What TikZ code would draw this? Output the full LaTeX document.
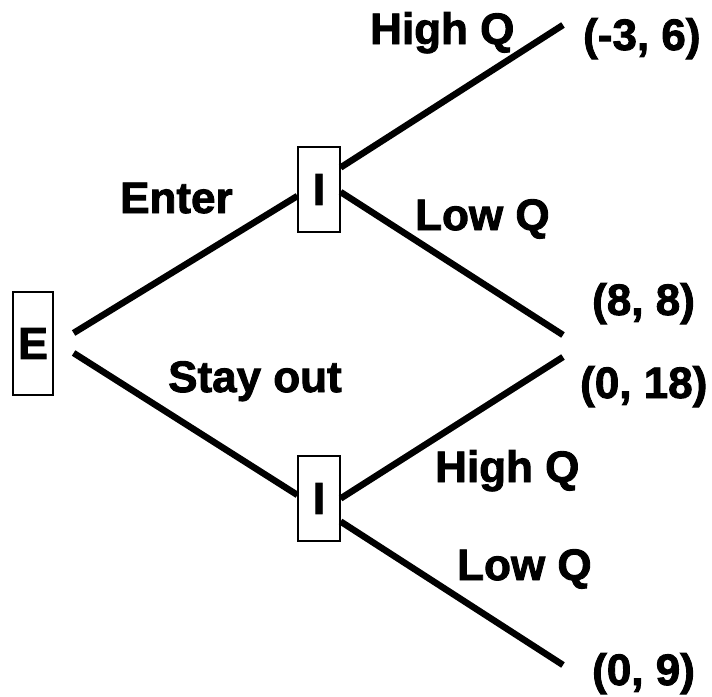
\documentclass[tikz,border=0pt]{standalone}
\usepackage{fontspec}
\setmainfont{Liberation Sans}[BoldFeatures={FakeBold=2}]
\begin{document}
\begin{tikzpicture}[x=1pt,y=-1pt,
  lbl/.style={anchor=base west,inner sep=0pt,font=\fontsize{44}{48}\selectfont\bfseries},
  player/.style={draw,line width=1.2pt,fill=white,inner sep=0pt,font=\fontsize{45}{48}\selectfont\bfseries},
  branch/.style={line width=6.5pt}]
\useasboundingbox (0,0) rectangle (712,696);
% players
\node[player,minimum width=40pt,minimum height=103pt] (E) at (33,343.5) {E};
\node[player,minimum width=42pt,minimum height=85pt] (I1) at (319,189.5) {I};
\node[player,minimum width=42pt,minimum height=85pt] (I2) at (319,498.5) {I};
% terminal points
\coordinate (t1) at (563,25);
\coordinate (t2) at (563,335);
\coordinate (t3) at (563,357);
\coordinate (t4) at (563,665);
% branches
\draw[branch] ([shift={(20,-10.5)}]E.east) -- ([shift={(0,6.5)}]I1.west);
\draw[branch] ([shift={(20,9.5)}]E.east) -- ([shift={(0,-3.5)}]I2.west);
\draw[branch] ([shift={(0,-22)}]I1.east) -- (t1);
\draw[branch] ([shift={(0,2.5)}]I1.east) -- (t2);
\draw[branch] ([shift={(0,0)}]I2.east) -- (t3);
\draw[branch] ([shift={(0,23)}]I2.east) -- (t4);
% labels
\node[lbl] (hq1) at (370,44) {High Q};
\node[lbl] (p1) at (583,50) {(-3, 6)};
\node[lbl] (en) at (120,213) {Enter};
\node[lbl] (lq1) at (415,230) {Low Q};
\node[lbl] (p2) at (592,315) {(8, 8)};
\node[lbl] (so) at (168,392) {Stay out};
\node[lbl] (p3) at (580,398) {(0, 18)};
\node[lbl] (hq2) at (435,482) {High Q};
\node[lbl] (lq2) at (457,580) {Low Q};
\node[lbl] (p4) at (592,685) {(0, 9)};
\end{tikzpicture}
\end{document}
